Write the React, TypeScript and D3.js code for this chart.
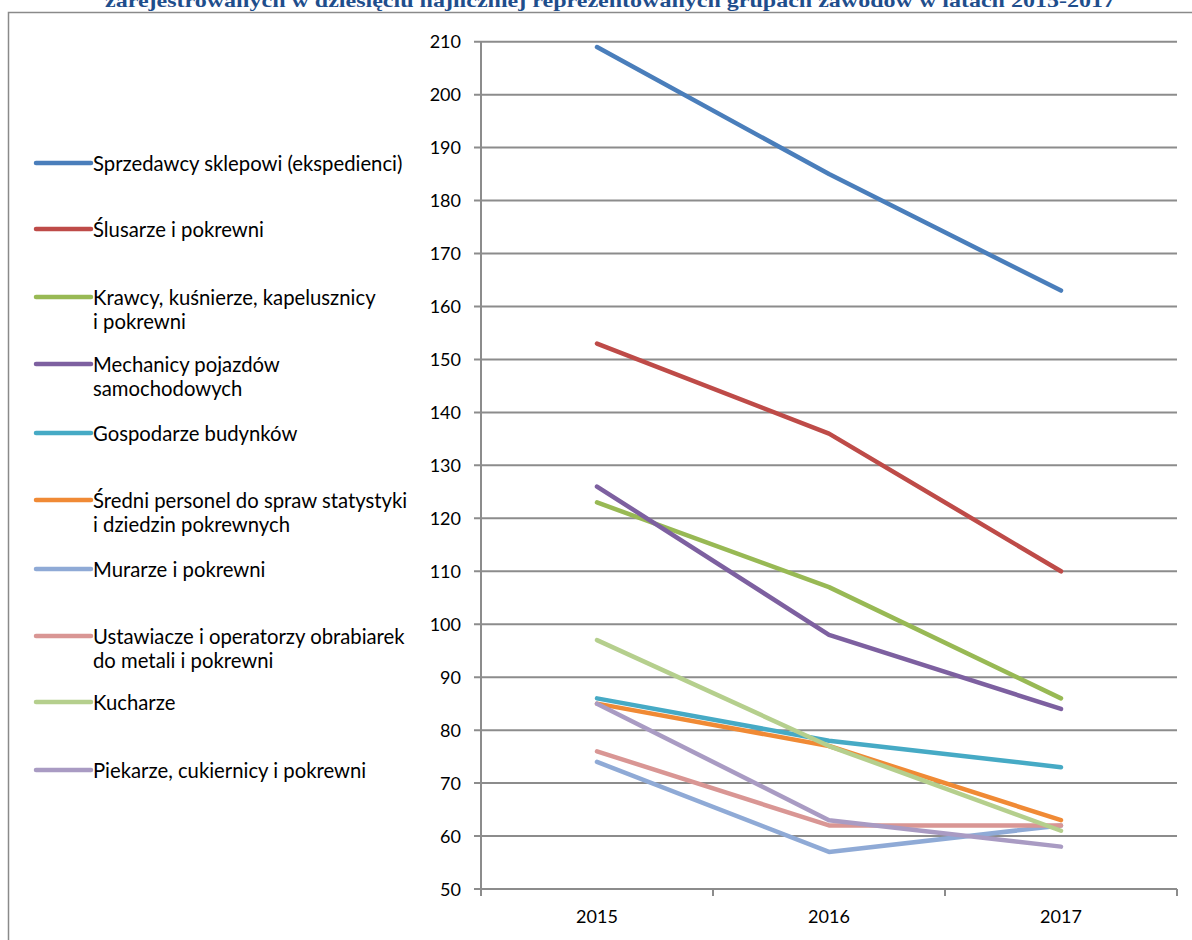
import React from "react";
import * as d3 from "d3";

const years = ["2015", "2016", "2017"];

const seriesNames = [
  ["Sprzedawcy sklepowi (ekspedienci)"],
  ["Ślusarze i pokrewni"],
  ["Krawcy, kuśnierze, kapelusznicy", "i pokrewni"],
  ["Mechanicy pojazdów", "samochodowych"],
  ["Gospodarze budynków"],
  ["Średni personel do spraw statystyki", "i dziedzin pokrewnych"],
  ["Murarze i pokrewni"],
  ["Ustawiacze i operatorzy obrabiarek", "do metali i pokrewni"],
  ["Kucharze"],
  ["Piekarze, cukiernicy i pokrewni"],
];

const sprzedawcy = [209, 185, 163];
const slusarze = [153, 136, 110];
const krawcy = [123, 107, 86];
const mechanicy = [126, 98, 84];
const gospodarze = [86, 78, 73];
const sredniPersonel = [85, 77, 63];
const murarze = [74, 57, 62];
const ustawiacze = [76, 62, 62];
const kucharze = [97, 77, 61];
const piekarze = [85, 63, 58];

const seriesValues = [
  sprzedawcy, slusarze, krawcy, mechanicy, gospodarze,
  sredniPersonel, murarze, ustawiacze, kucharze, piekarze,
];

const colors = [
  "#4A7EBB", "#BE4B48", "#98B954", "#7D60A0", "#46AAC5",
  "#F08A35", "#8FAAD6", "#D99694", "#B5CF8D", "#A99BC3",
];

const yTicks = d3.range(50, 211, 10);

// legend rows (y of the sample line)
const legendY = [163, 229, 297, 364, 433, 500, 569, 636, 702, 770];

const title =
  "zarejestrowanych w dziesięciu najliczniej reprezentowanych grupach zawodów w latach 2015-2017";

export default function App() {
  const W = 1192;
  const H = 940;
  const left = 481;
  const right = 1177;
  const top = 41.7;
  const bottom = 889;

  const x = d3.scaleBand().domain(years).range([left, right]);
  const y = d3.scaleLinear().domain([50, 210]).range([bottom, top]);
  const line = d3
    .line<number>()
    .x((_, i) => x(years[i])! + x.bandwidth() / 2)
    .y((d) => y(d));

  const font = "Lato, 'Open Sans', sans-serif";

  return (
    <svg
      width={W}
      height={H}
      style={{ position: "absolute", left: 0, top: 0, background: "#fff" }}
    >
      <text
        x={610}
        y={7}
        textAnchor="middle"
        fontFamily="'Liberation Serif', 'Times New Roman', serif"
        fontWeight="bold"
        fontSize={19}
        fill="#1F4E8C"
        textLength={1010}
        lengthAdjust="spacingAndGlyphs"
      >
        {title}
      </text>
      <path
        d={`M8.5,${H} V12.5 H${W}`}
        fill="none"
        stroke="#8a8a8a"
        strokeWidth={1.5}
      />

      {/* grid + y ticks */}
      {yTicks.map((t) => (
        <g key={t}>
          <line
            x1={left - 7}
            x2={right}
            y1={y(t)}
            y2={y(t)}
            stroke="#8c8c8c"
            strokeWidth={2}
          />
          <text
            x={461}
            y={y(t) + 6.5}
            textAnchor="end"
            fontFamily={font}
            fontSize={18}
            fill="#000"
          >
            {t}
          </text>
        </g>
      ))}
      <line x1={left} x2={left} y1={top} y2={bottom + 7} stroke="#8c8c8c" strokeWidth={2} />
      {[...years.map((yr) => x(yr)!), right].map((tx, i) => (
        <line key={i} x1={tx} x2={tx} y1={bottom} y2={bottom + 7} stroke="#8c8c8c" strokeWidth={2} />
      ))}
      {years.map((yr) => (
        <text
          key={yr}
          x={x(yr)! + x.bandwidth() / 2}
          y={923}
          textAnchor="middle"
          fontFamily={font}
          fontSize={18}
          fill="#000"
        >
          {yr}
        </text>
      ))}

      {/* series */}
      {seriesValues.map((vals, i) => (
        <path
          key={i}
          d={line(vals)!}
          fill="none"
          stroke={colors[i]}
          strokeWidth={4.5}
          strokeLinecap="round"
          strokeLinejoin="round"
        />
      ))}

      {/* legend */}
      {seriesNames.map((lines, i) => (
        <g key={i}>
          <line
            x1={36}
            x2={91}
            y1={legendY[i]}
            y2={legendY[i]}
            stroke={colors[i]}
            strokeWidth={4.5}
            strokeLinecap="round"
          />
          {lines.map((l, j) => (
            <text
              key={j}
              x={93}
              y={legendY[i] + 7.5 + j * 24.5}
              fontFamily={font}
              fontSize={20.3}
              fill="#000"
            >
              {l}
            </text>
          ))}
        </g>
      ))}
    </svg>
  );
}
